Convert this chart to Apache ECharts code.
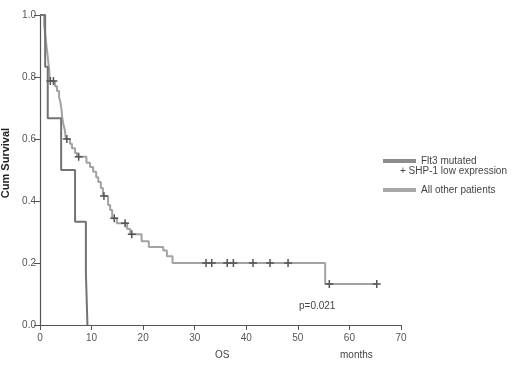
<!DOCTYPE html>
<html>
<head>
<meta charset="utf-8">
<script src="https://cdn.jsdelivr.net/npm/echarts@6/dist/echarts.min.js"></script>
<style>
  html, body { margin: 0; padding: 0; background: #fff; }
  #chart { width: 520px; height: 369px; }
</style>
</head>
<body>
<div id="chart"></div>
<script>
// Kaplan-Meier curves: [months, cumulative survival after the event]
const flt3Steps = [
  [0, 1.0], [1.0, 0.833], [1.5, 0.667], [4.1, 0.5], [6.8, 0.333], [8.9, 0.167], [9.2, 0.0]
];
const otherSteps = [
  [0, 1.0], [0.8, 0.97], [1.0, 0.94], [1.2, 0.91], [1.4, 0.88], [1.6, 0.85], [1.8, 0.82],
  [1.9, 0.787], [2.9, 0.77], [3.3, 0.755], [3.7, 0.735], [4.0, 0.715], [4.2, 0.69],
  [4.3, 0.67], [4.5, 0.65], [4.8, 0.63], [5.0, 0.60], [5.8, 0.585], [6.2, 0.57],
  [6.8, 0.555], [7.2, 0.543], [9.0, 0.523], [9.7, 0.51], [10.3, 0.494], [10.9, 0.477],
  [11.3, 0.461], [11.8, 0.442], [12.2, 0.416], [13.2, 0.387], [13.6, 0.371], [14.0, 0.344],
  [14.9, 0.328], [16.9, 0.31], [17.5, 0.293], [19.7, 0.27], [21.1, 0.252], [23.9, 0.24],
  [24.6, 0.222], [25.7, 0.20], [55.3, 0.132], [65.3, 0.132]
];
// censored observations (+ marks)
const censorTimes = [2.0, 2.6, 5.2, 7.5, 12.4, 14.4, 16.5, 17.8, 32.2, 33.3, 36.3, 37.5, 41.3, 44.6, 48.1, 56.1, 65.3];
const censorSurv  = [0.787, 0.787, 0.60, 0.543, 0.416, 0.344, 0.328, 0.293, 0.20, 0.20, 0.20, 0.20, 0.20, 0.20, 0.20, 0.132, 0.132];

const xTicks = { min: 0, max: 70, interval: 10 };
const yTicks = { min: 0, max: 1, interval: 0.2 };

const flt3Color = '#737373';
const otherColor = '#a2a2a2';
const crossPath = 'path://M3.25,0H4.75V3.25H8V4.75H4.75V8H3.25V4.75H0V3.25H3.25Z';
const font = 'Liberation Sans, Arial, sans-serif';

const chart = echarts.init(document.getElementById('chart'));

chart.setOption({
  animation: false,
  backgroundColor: '#fff',
  grid: { left: 40, right: 119, top: 15, bottom: 44, outerBoundsMode: 'none', containLabel: false },
  xAxis: {
    type: 'value',
    min: xTicks.min, max: xTicks.max, interval: xTicks.interval,
    axisLine: { show: true, lineStyle: { color: '#555', width: 1.2 } },
    axisTick: { show: true, length: 5, lineStyle: { color: '#555' } },
    axisLabel: { color: '#555', fontSize: 10, fontFamily: font, margin: 8 },
    splitLine: { show: false }
  },
  yAxis: {
    type: 'value',
    min: yTicks.min, max: yTicks.max, interval: yTicks.interval,
    axisLine: { show: true, lineStyle: { color: '#555', width: 1.2 } },
    axisTick: { show: true, length: 6, lineStyle: { color: '#555' } },
    axisLabel: { color: '#555', fontSize: 10, fontFamily: font, margin: 4,
      formatter: v => v.toFixed(1) },
    splitLine: { show: false }
  },
  legend: {
    orient: 'vertical',
    left: 378, top: 151,
    itemWidth: 33, itemHeight: 4,
    itemGap: 19,
    icon: 'rect',
    textStyle: { color: '#444', fontSize: 10, fontFamily: font },
    data: [
      { name: 'Flt3 mutated', itemStyle: { color: '#8c8c8c' } },
      { name: 'All other patients', itemStyle: { color: '#a8a8a8' } }
    ]
  },
  graphic: [
    { type: 'text', x: 6, y: 163, rotation: Math.PI / 2,
      style: { text: 'Cum Survival', fill: '#222', fontSize: 11, fontWeight: 'bold',
        fontFamily: font, align: 'center', verticalAlign: 'middle' } },
    { type: 'text', left: 400, top: 166,
      style: { text: '+ SHP-1 low expression', fill: '#444', fontSize: 10, fontFamily: font } },
    { type: 'text', left: 299, top: 301,
      style: { text: 'p=0.021', fill: '#444', fontSize: 10, fontFamily: font } },
    { type: 'text', left: 215, top: 350,
      style: { text: 'OS', fill: '#444', fontSize: 10, fontFamily: font } },
    { type: 'text', left: 340, top: 350,
      style: { text: 'months', fill: '#444', fontSize: 10, fontFamily: font } }
  ],
  series: [
    {
      name: 'All other patients',
      type: 'line', step: 'end', showSymbol: false,
      data: otherSteps,
      lineStyle: { color: otherColor, width: 2 },
      itemStyle: { color: otherColor },
      z: 2
    },
    {
      name: 'Flt3 mutated',
      type: 'line', step: 'end', showSymbol: false,
      data: flt3Steps,
      lineStyle: { color: flt3Color, width: 2 },
      itemStyle: { color: flt3Color },
      z: 3
    },
    {
      name: 'censored',
      type: 'scatter',
      symbol: crossPath,
      symbolSize: 8,
      data: censorTimes.map((t, i) => [t, censorSurv[i]]),
      itemStyle: { color: '#555', opacity: 1 },
      z: 4
    }
  ]
});
</script>
</body>
</html>
